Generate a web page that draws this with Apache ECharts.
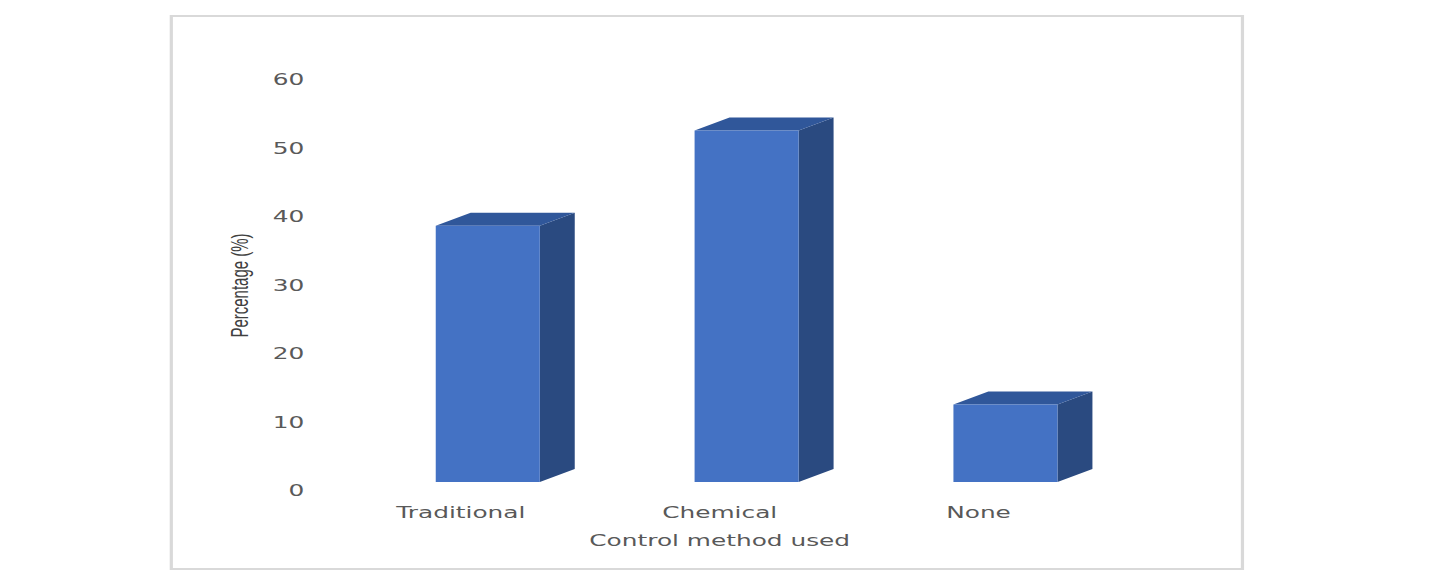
<!DOCTYPE html>
<html lang="en">
<head>
    <meta charset="UTF-8">
    <title>Control method used</title>
    <style>
        html, body {
            margin: 0;
            padding: 0;
            background: #ffffff;
            overflow: hidden;
        }

        /* the reference is stretched horizontally, so draw narrow and stretch */
        #chart {
            width: 905px;
            height: 578px;
            transform: scaleX(1.6011);
            transform-origin: 0 0;
        }
    </style>
</head>
<body>
<div id="chart"></div>
<script src="https://cdn.jsdelivr.net/npm/echarts@6/dist/echarts.min.js"></script>
<script>
    var categories = ['Traditional', 'Chemical', 'None'];
    var percentages = [37.4, 51.3, 11.3];
    var yTicks = [0, 10, 20, 30, 40, 50, 60];

    var barData = categories.map(function (c, i) {
        return [i, percentages[i]];
    });

    /* 3D column: front face, darker side and top */
    function renderBox(params, api) {
        var base = api.coord([api.value(0), 0]);
        var top = api.coord([api.value(0), api.value(1)]);
        var band = api.size([1, 0])[0];
        var x0 = base[0] - band * 0.097;
        var x1 = x0 + band * 0.402;
        var dx = band * 0.135, dy = 13, lift = 9;
        var yb = base[1] - lift, yt = top[1] - lift;
        return {
            type: 'group',
            children: [
                {
                    type: 'polygon',
                    shape: {points: [[x1, yb], [x1 + dx, yb - dy], [x1 + dx, yt - dy], [x1, yt]]},
                    style: {fill: '#2a4a80'}
                },
                {
                    type: 'polygon',
                    shape: {points: [[x0, yt], [x0 + dx, yt - dy], [x1 + dx, yt - dy], [x1, yt]]},
                    style: {fill: '#30579a'}
                },
                {
                    type: 'rect',
                    shape: {x: x0, y: yt, width: x1 - x0, height: yb - yt},
                    style: {fill: '#4472c4'}
                }
            ]
        };
    }

    var chart = echarts.init(document.getElementById('chart'), null, {renderer: 'svg'});
    var option = {
        backgroundColor: '#ffffff',
        animation: false,
        graphic: [{
            type: 'rect',
            shape: {x: 107, y: 16, width: 669, height: 553},
            style: {fill: 'none', stroke: '#d9d9d9', lineWidth: 2}
        }],
        grid: {
            left: 207,
            right: 213,
            top: 80,
            bottom: 87
        },
        xAxis: {
            type: 'category',
            data: categories,
            name: 'Control method used',
            nameLocation: 'middle',
            nameGap: 42,
            nameTextStyle: {color: '#595959', fontSize: 15.5, fontFamily: 'DejaVu Sans'},
            axisLine: {show: false},
            axisTick: {show: false},
            axisLabel: {margin: 14, color: '#595959', fontSize: 15.5, fontFamily: 'DejaVu Sans'}
        },
        yAxis: {
            type: 'value',
            min: yTicks[0],
            max: yTicks[yTicks.length - 1],
            interval: 10,
            name: 'Percentage (%)',
            nameLocation: 'middle',
            nameGap: 50,
            nameTextStyle: {color: '#404040', fontSize: 15, fontFamily: 'Liberation Sans'},
            axisLine: {show: false},
            axisTick: {show: false},
            splitLine: {show: false},
            axisLabel: {
                margin: 17, color: '#595959', fontSize: 15.5, fontFamily: 'DejaVu Sans',
                padding: [4, 0, 0, 0]
            }
        },
        series: [{
            type: 'custom',
            renderItem: renderBox,
            encode: {x: 0, y: 1},
            data: barData
        }]
    };
    chart.setOption(option);
</script>
</body>
</html>
